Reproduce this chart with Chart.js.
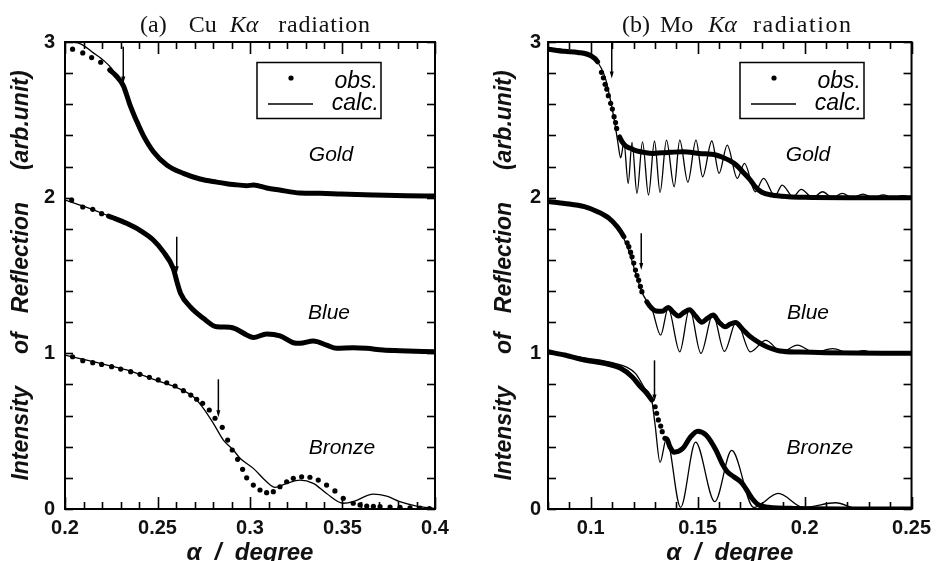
<!DOCTYPE html>
<html><head><meta charset="utf-8">
<script src="https://cdn.jsdelivr.net/npm/chart.js@4.4.0/dist/chart.umd.min.js"></script>
<style>
html,body{margin:0;padding:0;background:#fff;width:938px;height:561px;overflow:hidden;}
.panel{position:absolute;top:0;width:469px;height:561px;}
.ttl{position:absolute;top:12px;font-family:"Liberation Serif","Times New Roman",serif;font-size:24px;line-height:24px;color:#111;white-space:nowrap;}
.ttl span{display:inline-block;}
</style></head><body>
<div class="panel" style="left:0"><canvas id="cA" width="469" height="561"></canvas></div>
<div class="panel" style="left:469px"><canvas id="cB" width="469" height="561"></canvas></div>
<div class="ttl" style="left:140px"><span>(a)</span><span style="margin-left:22px">Cu</span><span style="margin-left:13px"><i>Kα</i></span><span style="margin-left:20px;letter-spacing:0.8px">radiation</span></div>
<div class="ttl" style="left:622px"><span>(b)</span><span style="margin-left:10px">Mo</span><span style="margin-left:15px"><i>Kα</i></span><span style="margin-left:16px;letter-spacing:1.6px">radiation</span></div>
<script>
// ---------- data ----------
const sampleNames = ['Gold', 'Blue', 'Bronze'];
const legendNames = ['obs.', 'calc.'];
const yTicks = [0, 1, 2, 3];
const yTickLabels = ['0', '1', '2', '3'];

// (a) Cu K-alpha
const cuXTicks = [0.2, 0.25, 0.3, 0.35, 0.4];
const cuXLabels = ['0.2', '0.25', '0.3', '0.35', '0.4'];
const cuGoldObs = [[0.2041,2.954],[0.2096,2.93],[0.2144,2.90],[0.2193,2.87],[0.2242,2.82],[0.2275,2.785],[0.2315,2.72],[0.235,2.6],[0.2388,2.49],[0.2423,2.40],[0.2478,2.295],[0.255,2.21],[0.264,2.156],[0.273,2.12],[0.282,2.10],[0.2875,2.09],[0.291,2.085],[0.298,2.077],[0.302,2.081],[0.309,2.062],[0.316,2.049],[0.327,2.03],[0.338,2.028],[0.349,2.023],[0.3665,2.017],[0.3847,2.012],[0.4,2.01]];
const cuGoldCalc = [[0.2,3.0],[0.208,2.99],[0.2153,2.93],[0.221,2.88],[0.2252,2.83],[0.2275,2.785],[0.2315,2.72],[0.235,2.6],[0.2388,2.49],[0.2423,2.40],[0.2478,2.295],[0.255,2.21],[0.264,2.156],[0.273,2.122],[0.282,2.10],[0.291,2.085],[0.298,2.077],[0.302,2.081],[0.309,2.06],[0.316,2.049],[0.327,2.03],[0.338,2.026],[0.349,2.022],[0.3665,2.016],[0.3847,2.012],[0.4,2.01]];
const cuBlueObs = [[0.2036,1.985],[0.2096,1.94],[0.215,1.925],[0.2198,1.897],[0.2235,1.882],[0.226,1.871],[0.2333,1.835],[0.2405,1.79],[0.2477,1.728],[0.2531,1.653],[0.2585,1.546],[0.2605,1.46],[0.2625,1.385],[0.2676,1.30],[0.2748,1.225],[0.282,1.171],[0.2892,1.168],[0.2928,1.154],[0.2982,1.118],[0.3018,1.102],[0.309,1.124],[0.3162,1.112],[0.3234,1.068],[0.327,1.064],[0.3342,1.079],[0.3414,1.053],[0.3468,1.032],[0.3558,1.036],[0.363,1.032],[0.372,1.021],[0.381,1.017],[0.4,1.01]];
const cuBlueCalc = [[0.2,1.985],[0.21,1.945],[0.22,1.9],[0.226,1.871],[0.2333,1.835],[0.2405,1.79],[0.2477,1.728],[0.2531,1.653],[0.2585,1.546],[0.2605,1.46],[0.2625,1.385],[0.2676,1.30],[0.2748,1.225],[0.282,1.171],[0.2892,1.168],[0.2928,1.154],[0.2982,1.118],[0.3018,1.102],[0.309,1.124],[0.3162,1.112],[0.3234,1.068],[0.327,1.064],[0.3342,1.079],[0.3414,1.053],[0.3468,1.032],[0.3558,1.036],[0.363,1.032],[0.372,1.021],[0.381,1.017],[0.4,1.01]];
const cuBronzeObs = [[0.2041,0.978],[0.2096,0.953],[0.215,0.94],[0.2198,0.929],[0.2252,0.914],[0.2301,0.899],[0.2355,0.882],[0.2405,0.865],[0.2456,0.846],[0.2504,0.829],[0.255,0.811],[0.2595,0.79],[0.264,0.76],[0.268,0.732],[0.2712,0.705],[0.2744,0.679],[0.278,0.636],[0.2811,0.583],[0.285,0.525],[0.2879,0.443],[0.2904,0.379],[0.2933,0.319],[0.296,0.255],[0.2982,0.20],[0.3018,0.154],[0.3054,0.122],[0.309,0.105],[0.3126,0.111],[0.3162,0.143],[0.3198,0.175],[0.3234,0.197],[0.3279,0.207],[0.3324,0.204],[0.3369,0.186],[0.3414,0.154],[0.3459,0.116],[0.3504,0.069],[0.3558,0.037],[0.3595,0.026],[0.3631,0.019],[0.3667,0.017],[0.3703,0.015],[0.3757,0.013],[0.3811,0.011],[0.3865,0.008],[0.3919,0.005],[0.397,0.003]];
const cuBronzeCalc = [[0.2,0.989],[0.2153,0.946],[0.2333,0.893],[0.2514,0.818],[0.2604,0.78],[0.2694,0.721],[0.2748,0.647],[0.2802,0.55],[0.2856,0.443],[0.291,0.379],[0.2946,0.326],[0.3018,0.261],[0.309,0.175],[0.3135,0.139],[0.3198,0.165],[0.327,0.186],[0.3342,0.165],[0.3414,0.10],[0.3504,0.037],[0.3558,0.047],[0.3666,0.096],[0.3739,0.083],[0.381,0.047],[0.39,0.019],[0.4,0.004]];
const cuArrowX = [0.2315, 0.2604, 0.2829];
const cuArrowTop = [2.97, 1.749, 0.833];
const cuArrowTip = [2.734, 1.514, 0.589];
const cuLabelX = [0.3438, 0.3427, 0.3497];
const cuLabelY = [2.274, 1.259, 0.392];

// (b) Mo K-alpha
const moXTicks = [0.1, 0.15, 0.2, 0.25];
const moXLabels = ['0.1', '0.15', '0.2', '0.25'];
const moGoldObs = [[0.0801,2.954],[0.0878,2.94],[0.094,2.933],[0.1001,2.911],[0.1032,2.873],[0.105,2.805],[0.1059,2.77],[0.1067,2.728],[0.1075,2.697],[0.1082,2.655],[0.1093,2.606],[0.1101,2.569],[0.1109,2.52],[0.1116,2.483],[0.1121,2.445],[0.1135,2.39],[0.1147,2.359],[0.1165,2.33],[0.1186,2.317],[0.1215,2.30],[0.1247,2.291],[0.1293,2.284],[0.133,2.288],[0.137,2.291],[0.1431,2.295],[0.1508,2.284],[0.1585,2.274],[0.1615,2.26],[0.1646,2.241],[0.168,2.21],[0.1708,2.17],[0.1745,2.115],[0.1769,2.07],[0.18,2.035],[0.1846,2.017],[0.1923,2.006],[0.2,2.002],[0.22,2.0],[0.25,2.0]];
const moGoldCalc = [[0.08,2.96],[0.09,2.945],[0.098,2.925],[0.102,2.89],[0.105,2.83],[0.107,2.76],[0.109,2.64],[0.111,2.5],[0.1125,2.37],[0.114,2.256],[0.1155,2.355],[0.1175,2.092],[0.1193,2.355],[0.1216,2.028],[0.1242,2.359],[0.127,2.017],[0.1298,2.364],[0.1324,2.034],[0.1354,2.37],[0.139,2.07],[0.1416,2.37],[0.1454,2.10],[0.1492,2.37],[0.1523,2.134],[0.1566,2.364],[0.16,2.156],[0.1638,2.338],[0.1685,2.124],[0.1719,2.22],[0.1769,2.038],[0.1808,2.124],[0.1861,2.01],[0.1895,2.081],[0.1946,2.006],[0.1984,2.053],[0.2038,2.0],[0.2084,2.038],[0.2131,2.0],[0.2176,2.028],[0.2224,2.0],[0.2273,2.023],[0.232,2.0],[0.2368,2.018],[0.2412,2.0],[0.2459,2.013],[0.25,2.0]];
const moBlueObs = [[0.0809,1.974],[0.0878,1.963],[0.097,1.942],[0.1032,1.91],[0.1086,1.867],[0.1124,1.813],[0.1155,1.749],[0.117,1.71],[0.1178,1.685],[0.1186,1.65],[0.1193,1.62],[0.1201,1.58],[0.1209,1.535],[0.1216,1.50],[0.1224,1.47],[0.1232,1.43],[0.1239,1.396],[0.1262,1.331],[0.1285,1.29],[0.1305,1.272],[0.1335,1.27],[0.1362,1.295],[0.1385,1.265],[0.141,1.24],[0.1435,1.262],[0.1462,1.28],[0.149,1.24],[0.152,1.20],[0.1545,1.225],[0.1572,1.246],[0.16,1.20],[0.163,1.171],[0.1652,1.188],[0.1677,1.198],[0.171,1.155],[0.1746,1.107],[0.1785,1.07],[0.1823,1.042],[0.1884,1.015],[0.1976,1.008],[0.21,1.004],[0.25,1.0]];
const moBlueCalc = [[0.08,1.975],[0.09,1.96],[0.1,1.93],[0.105,1.895],[0.11,1.85],[0.1135,1.79],[0.116,1.72],[0.118,1.65],[0.12,1.56],[0.122,1.47],[0.124,1.39],[0.1265,1.33],[0.1285,1.29],[0.1327,1.117],[0.1362,1.29],[0.1416,1.01],[0.1462,1.289],[0.1515,1.0],[0.1571,1.25],[0.1625,1.012],[0.1681,1.205],[0.1746,1.01],[0.1818,1.083],[0.1892,1.01],[0.1967,1.053],[0.2045,1.005],[0.2131,1.03],[0.2214,1.0],[0.2276,1.017],[0.233,1.0],[0.24,1.01],[0.2445,1.0],[0.25,1.003]];
const moBronzeObs = [[0.0801,1.01],[0.0878,0.989],[0.097,0.957],[0.1062,0.936],[0.114,0.904],[0.1193,0.85],[0.1232,0.786],[0.1262,0.743],[0.1285,0.70],[0.1301,0.657],[0.1308,0.615],[0.1316,0.572],[0.1327,0.533],[0.1334,0.497],[0.1347,0.454],[0.1356,0.45],[0.137,0.40],[0.139,0.365],[0.1431,0.39],[0.1465,0.46],[0.15,0.50],[0.1539,0.475],[0.1585,0.379],[0.1615,0.29],[0.1638,0.24],[0.1669,0.207],[0.1708,0.165],[0.1754,0.069],[0.1785,0.026],[0.1831,0.012],[0.195,0.004],[0.25,0.0]];
const moBronzeCalc = [[0.08,1.0],[0.09,0.985],[0.1,0.965],[0.11,0.94],[0.117,0.91],[0.121,0.87],[0.125,0.78],[0.1285,0.70],[0.13,0.55],[0.1324,0.30],[0.1354,0.454],[0.142,0.01],[0.149,0.43],[0.158,0.047],[0.1659,0.376],[0.1762,0.01],[0.1877,0.10],[0.1995,0.01],[0.2145,0.04],[0.2253,0.0],[0.235,0.004],[0.25,0.0]];
const moArrowX = [0.1098, 0.1236, 0.1298];
const moArrowTop = [3.0, 1.771, 0.955];
const moArrowTip = [2.766, 1.535, 0.69];
const moLabelX = [0.2016, 0.2016, 0.2071];
const moLabelY = [2.274, 1.259, 0.392];

// ---------- rendering ----------
const SANS = "'Liberation Sans', Arial, Helvetica, sans-serif";
const toXY = arr => arr.map(p => ({x: p[0], y: p[1]}));

function inBand(bands, v) { return bands.findIndex(b => v >= b[0] && v <= b[1]); }

function obsSet(arr, bands) {
  return {
    data: toXY(arr), showLine: true, borderColor: '#000', backgroundColor: '#000',
    borderWidth: 5, borderCapStyle: 'round', borderJoinStyle: 'round',
    cubicInterpolationMode: 'monotone',
    pointRadius: c => (c.raw && inBand(bands, c.raw.x) >= 0) ? 0 : 2.6,
    pointBorderWidth: 0,
    segment: {
      borderColor: c => {
        const a = inBand(bands, c.p0.parsed.x), b = inBand(bands, c.p1.parsed.x);
        return (a >= 0 && a === b) ? '#000' : 'rgba(0,0,0,0)';
      }
    }
  };
}
function calcSet(arr) {
  return {data: toXY(arr), showLine: true, borderColor: '#000', borderWidth: 1.3,
    pointRadius: 0, cubicInterpolationMode: 'monotone'};
}

const panelDecor = {
  id: 'panelDecor',
  afterDatasetsDraw(chart, args, o) {
    const {ctx, chartArea: a, scales: {x, y}} = chart;
    ctx.save();
    ctx.strokeStyle = '#000'; ctx.fillStyle = '#000';
    const seg = (x1, y1, x2, y2) => { ctx.beginPath(); ctx.moveTo(x1, y1); ctx.lineTo(x2, y2); ctx.stroke(); };
    // minor / major ticks on all four sides, pointing inward
    ctx.lineWidth = 1.6;
    const nx = Math.round((x.max - x.min) / o.xMinor);
    for (let i = 0; i <= nx; i++) {
      const v = x.min + i * o.xMinor;
      const px = Math.round(x.getPixelForValue(v)) + 0.5;
      const r = v / o.xMajor, major = Math.abs(r - Math.round(r)) < 1e-6;
      const L = major ? 12 : 7;
      seg(px, a.bottom, px, a.bottom - L); seg(px, a.top, px, a.top + L);
    }
    const ny = Math.round((y.max - y.min) / o.yMinor);
    for (let i = 0; i <= ny; i++) {
      const py = Math.round(y.getPixelForValue(y.min + i * o.yMinor)) + 0.5;
      seg(a.left, py, a.left + 8, py); seg(a.right, py, a.right - 8, py);
    }
    // frame
    ctx.lineWidth = 2;
    ctx.strokeRect(a.left, a.top, a.right - a.left, a.bottom - a.top);
    // critical-angle arrows
    ctx.lineWidth = 1.5;
    o.arrows.x.forEach((v, i) => {
      const px = x.getPixelForValue(v), pt = y.getPixelForValue(o.arrows.top[i]), pb = y.getPixelForValue(o.arrows.tip[i]);
      seg(px, pt, px, pb - 4);
      ctx.beginPath(); ctx.moveTo(px - 2, pb - 7); ctx.lineTo(px + 2, pb - 7); ctx.lineTo(px, pb); ctx.closePath(); ctx.fill();
    });
    // sample labels
    ctx.font = 'italic 21px ' + SANS; ctx.textAlign = 'center'; ctx.textBaseline = 'middle';
    o.labels.text.forEach((t, i) => ctx.fillText(t, x.getPixelForValue(o.labels.x[i]), y.getPixelForValue(o.labels.y[i])));
    // legend box
    const L0 = a.left + 192, T0 = a.top + 20.5;
    ctx.lineWidth = 1.5;
    ctx.strokeRect(L0, T0, 124, 56);
    ctx.beginPath(); ctx.arc(a.left + 226, a.top + 36, 2.6, 0, Math.PI * 2); ctx.fill();
    ctx.lineWidth = 1.3; seg(a.left + 203, a.top + 62, a.left + 248, a.top + 62);
    ctx.textAlign = 'right'; ctx.textBaseline = 'alphabetic'; ctx.font = 'italic 23px ' + SANS;
    ctx.fillText(legendNames[0], a.left + 313, a.top + 46);
    ctx.fillText(legendNames[1], a.left + 314, a.top + 68);
    ctx.restore();
  }
};

function makeChart(id, c) {
  return new Chart(document.getElementById(id), {
    type: 'scatter',
    data: {datasets: c.datasets},
    options: {
      responsive: false, animation: false, events: [],
      layout: {padding: {top: 42, right: c.padRight, left: 0, bottom: 0}},
      plugins: {legend: {display: false}, tooltip: {enabled: false}, panelDecor: c.decor},
      scales: {
        x: {
          type: 'linear', min: c.xMin, max: c.xMax,
          afterFit: s => { s.height = 52; },
          afterBuildTicks: s => { s.ticks = c.xTicks.map(v => ({value: v})); },
          grid: {display: false, drawTicks: false}, border: {display: false},
          ticks: {padding: 7, autoSkip: false, maxRotation: 0, color: '#111',
            font: {family: SANS, size: 20, weight: 'bold'},
            callback: (v, i) => c.xLabels[i]},
          title: {display: true, text: 'α  /  degree', color: '#111',
            font: {family: SANS, size: 24, weight: 'bold', style: 'italic', lineHeight: 1},
            padding: {top: 0, bottom: -4}}
        },
        y: {
          type: 'linear', min: 0, max: 3,
          afterFit: s => { s.width = c.yWidth; },
          afterBuildTicks: s => { s.ticks = yTicks.map(v => ({value: v})); },
          grid: {display: false, drawTicks: false}, border: {display: false},
          ticks: {padding: c.yPad, color: '#111', font: {family: SANS, size: 20, weight: 'bold'},
            callback: (v, i) => yTickLabels[i]},
          title: {display: true, text: 'Intensity     of   Reflection     (arb.unit)', color: '#111',
            font: {family: SANS, size: 23, weight: 'bold', style: 'italic', lineHeight: 1},
            padding: {top: c.titlePad, bottom: 0}}
        }
      }
    },
    plugins: [panelDecor]
  });
}

makeChart('cA', {
  xMin: 0.2, xMax: 0.4, xTicks: cuXTicks, xLabels: cuXLabels,
  padRight: 34, yWidth: 65, yPad: 10, titlePad: 10,
  datasets: [
    obsSet(cuGoldObs, [[0.224, 0.41]]), obsSet(cuBlueObs, [[0.2225, 0.41]]), obsSet(cuBronzeObs, []),
    calcSet(cuGoldCalc), calcSet(cuBlueCalc), calcSet(cuBronzeCalc)
  ],
  decor: {xMinor: 0.01, xMajor: 0.05, yMinor: 0.2,
    arrows: {x: cuArrowX, top: cuArrowTop, tip: cuArrowTip},
    labels: {text: sampleNames, x: cuLabelX, y: cuLabelY}}
});

makeChart('cB', {
  xMin: 0.08, xMax: 0.25, xTicks: moXTicks, xLabels: moXLabels,
  padRight: 21, yWidth: 79, yPad: 7, titlePad: 24,
  datasets: [
    obsSet(moGoldObs, [[0.079, 0.1035], [0.1125, 0.26]]),
    obsSet(moBlueObs, [[0.079, 0.116], [0.1245, 0.26]]),
    obsSet(moBronzeObs, [[0.079, 0.129], [0.1352, 0.26]]),
    calcSet(moGoldCalc), calcSet(moBlueCalc), calcSet(moBronzeCalc)
  ],
  decor: {xMinor: 0.01, xMajor: 0.05, yMinor: 0.2,
    arrows: {x: moArrowX, top: moArrowTop, tip: moArrowTip},
    labels: {text: sampleNames, x: moLabelX, y: moLabelY}}
});
</script>
</body></html>
